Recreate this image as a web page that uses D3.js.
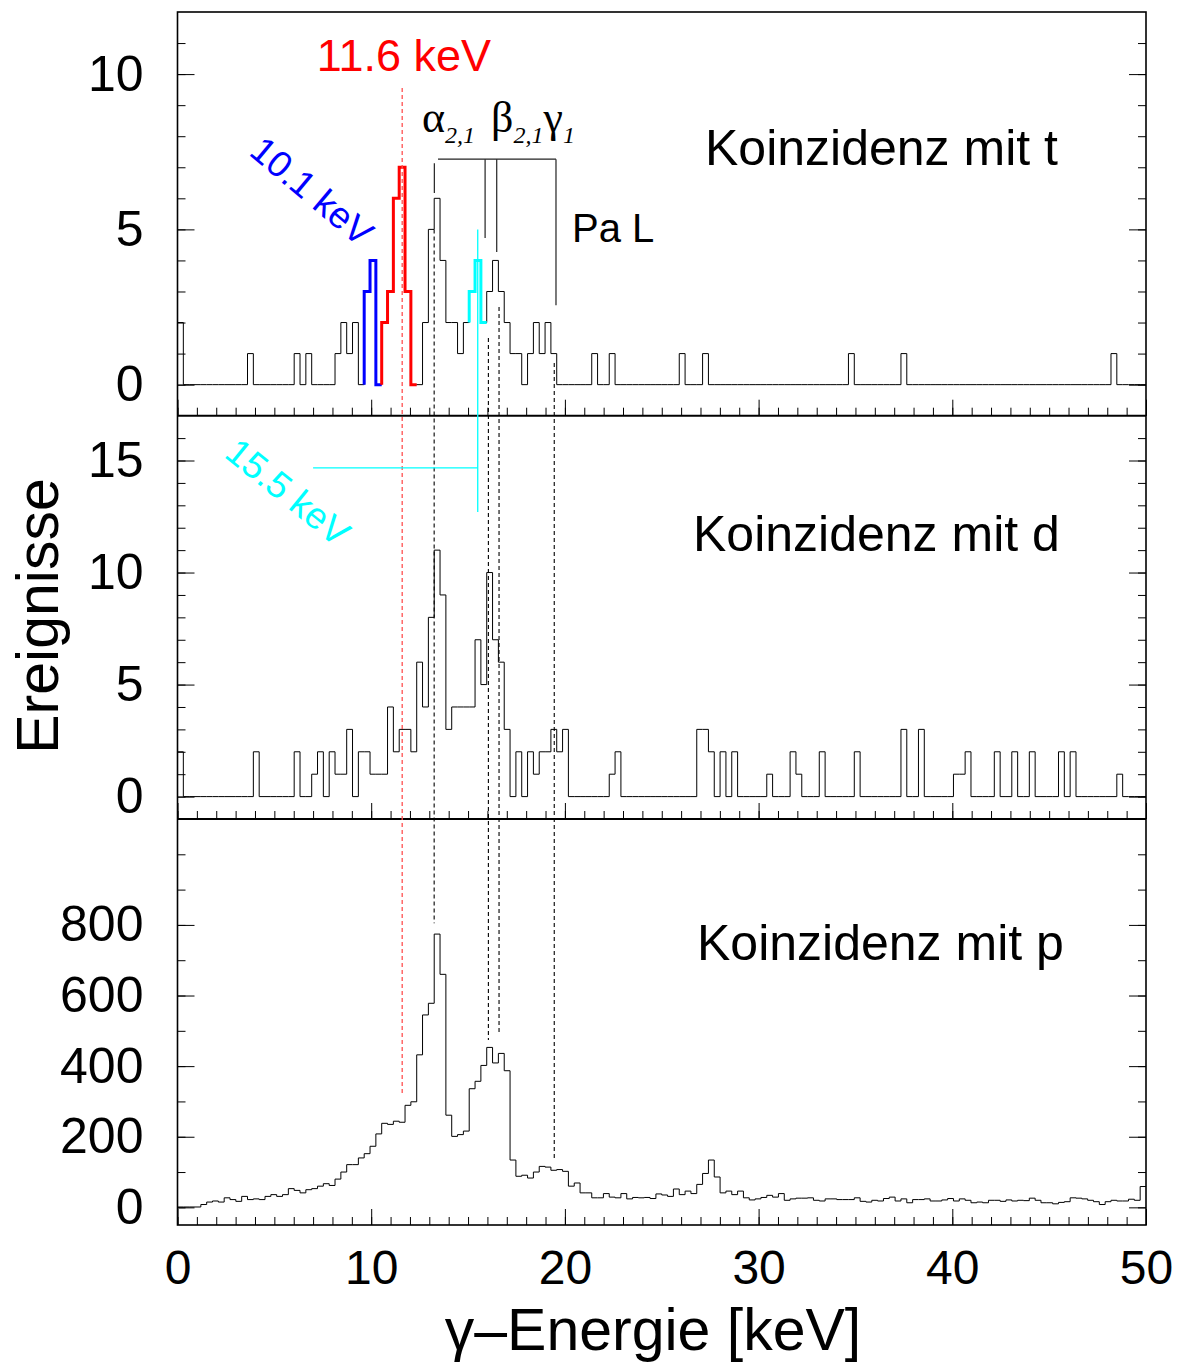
<!DOCTYPE html>
<html>
<head>
<meta charset="utf-8">
<script src="https://cdn.jsdelivr.net/npm/d3@7"></script>
<style>
  body { margin: 0; background: #fff; }
  svg { display: block; }
</style>
</head>
<body>
<svg id="chart" width="1184" height="1364"></svg>
<script>
// Energy axis and binning of the three coincidence spectra
const E_MIN = 0, E_MAX = 50;
const N_BINS = 166;

// Counts per bin, gamma spectrum in coincidence with tritons
const countsT = [
  2,0,0,0,0,0,0,0,0,0,
  0,0,1,0,0,0,0,0,0,0,
  1,0,1,0,0,0,0,1,2,1,
  2,0,3,4,0,2,3,6,7,3,
  0,0,2,5,6,4,2,2,1,2,
  3,4,2,3,4,3,2,1,1,0,
  1,2,1,2,1,0,0,0,0,0,
  0,1,0,0,1,0,0,0,0,0,
  0,0,0,0,0,0,1,0,0,0,
  1,0,0,0,0,0,0,0,0,0,
  0,0,0,0,0,0,0,0,0,0,
  0,0,0,0,0,1,0,0,0,0,
  0,0,0,0,1,0,0,0,0,0,
  0,0,0,0,0,0,0,0,0,0,
  0,0,0,0,0,0,0,0,0,0,
  0,0,0,0,0,0,0,0,0,0,
  1,0,0,0,0,0
];

// Counts per bin, coincidence with deuterons
const countsD = [
  2,0,0,0,0,0,0,0,0,0,
  0,0,0,2,0,0,0,0,0,0,
  2,0,0,1,2,0,2,1,1,3,
  0,2,2,1,1,1,4,2,3,3,
  2,6,4,8,11,9,3,4,4,4,
  4,7,5,10,7,6,3,0,2,0,
  2,1,2,2,3,2,3,0,0,0,
  0,0,0,0,1,2,0,0,0,0,
  0,0,0,0,0,0,0,0,0,3,
  3,2,0,2,0,2,0,0,0,0,
  0,1,0,0,0,2,1,0,0,0,
  2,0,0,0,0,0,2,0,0,0,
  0,0,0,0,3,0,0,3,0,0,
  0,0,0,1,1,2,0,0,0,0,
  2,0,0,2,0,0,2,0,0,0,
  0,2,0,2,0,0,0,0,0,0,
  0,1,0,0,0,0
];

// Counts per bin, coincidence with protons
const countsP = [
  1,1,1,1,8,15,18,15,27,22,
  17,31,22,24,22,31,36,31,36,53,
  48,41,50,53,60,67,62,80,100,121,
  121,140,152,173,208,238,235,244,241,289,
  299,432,545,578,774,660,261,201,206,216,
  336,357,402,453,409,436,387,134,88,91,
  83,100,116,114,105,107,102,60,69,41,
  41,27,27,39,29,27,39,24,28,27,
  28,25,38,35,31,52,36,46,39,65,
  96,134,86,41,46,36,46,27,21,24,
  28,34,29,39,20,24,26,26,27,20,
  18,24,24,22,22,22,27,17,15,20,
  18,25,29,18,24,13,22,22,24,18,
  18,21,25,18,24,20,13,15,13,20,
  20,17,21,18,20,19,26,20,13,13,
  10,14,16,27,26,24,20,16,8,16,
  20,18,18,23,20,59
];

// Highlighted bin ranges in the triton spectrum [first bin, last bin]
const blueBins = [32, 34];
const redBins = [35, 40];
const cyanBins = [50, 52];

// Axis ticks
const xMajorTicks = [0, 10, 20, 30, 40, 50];
const xMinorTicks = d3.range(0, 51, 1);
const yMajorT = [0, 5, 10];
const yMinorT = d3.range(0, 12, 1);
const yMajorD = [0, 5, 10, 15];
const yMinorD = d3.range(0, 17, 1);
const yMajorP = [0, 200, 400, 600, 800];
const yMinorP = d3.range(0, 1100, 100);

// Pa L x-ray line energies (keV) and the extent of their guide lines
const paLines = [13.25, 16.05, 16.6, 19.45];
const paLineTopT = [5.0, 1.5, 2.5, 0.7];      // start, in triton-panel counts
const paLineBottomP = [805, 474, 494, 134];   // end, in proton-panel counts
const bracketTicks = [13.26, 15.88, 16.48, 19.54];
const bracketTickBottom = [6.17, 4.72, 4.27, 2.56];
const bracketLevel = 7.26;

const redLine = 11.6;       // keV
const cyanLine = 15.5;      // keV
const cyanLeft = 7.0;       // keV, start of horizontal cyan guide

const FONT = "'Liberation Sans', Arial, Helvetica, sans-serif";
const SERIF = "'Liberation Serif', 'Times New Roman', serif";

const svg = d3.select('#chart');
const X0 = 177.5, X1 = 1146;
const x = d3.scaleLinear().domain([E_MIN, E_MAX]).range([X0, X1]);
const binW = (E_MAX - E_MIN) / N_BINS;
const edge = i => E_MIN + i * binW;

const panels = [
  { counts: countsT, scale: d3.scaleLinear().domain([-1, 12]).range([415.7, 12]),
    major: yMajorT, minor: yMinorT, label: 'Koinzidenz mit t', lx: 705, ly: 165 },
  { counts: countsD, scale: d3.scaleLinear().domain([-1, 17]).range([819, 415.7]),
    major: yMajorD, minor: yMinorD, label: 'Koinzidenz mit d', lx: 693, ly: 551 },
  { counts: countsP, scale: d3.scaleLinear().domain([-50, 1100]).range([1225, 819]),
    major: yMajorP, minor: yMinorP, label: 'Koinzidenz mit p', lx: 697, ly: 960 }
];
const yT = panels[0].scale, yD = panels[1].scale, yP = panels[2].scale;

function stepPoints(counts, first, last) {
  const pts = [];
  if (first > 0) pts.push([edge(first), counts[first - 1]]);
  for (let i = first; i <= last; i++) pts.push([edge(i), counts[i]]);
  pts.push([edge(last + 1), counts[last]]);
  return pts;
}

function drawHist(y, counts, first, last, color, width) {
  const line = d3.line().x(d => x(d[0])).y(d => y(d[1])).curve(d3.curveStepAfter);
  svg.append('path')
    .attr('d', line(stepPoints(counts, first, last)))
    .attr('fill', 'none')
    .attr('stroke', color)
    .attr('stroke-width', width)
    .attr('stroke-linejoin', 'miter');
}

function styleAxis(g) {
  g.select('.domain').remove();
  g.selectAll('.tick line').attr('stroke', '#000').attr('stroke-width', 1);
}

panels.forEach((p, idx) => {
  const y = p.scale;
  const yBottom = y.range()[0];

  drawHist(y, p.counts, 0, N_BINS - 1, '#000', 1);

  // bottom ticks pointing up
  svg.append('g').attr('transform', `translate(0,${yBottom})`)
    .call(d3.axisBottom(x).tickValues(xMinorTicks).tickSizeInner(-8).tickSizeOuter(0).tickFormat(''))
    .call(styleAxis);
  const gx = svg.append('g').attr('transform', `translate(0,${yBottom})`)
    .call(d3.axisBottom(x).tickValues(xMajorTicks).tickSizeInner(-16).tickSizeOuter(0)
      .tickPadding(25).tickFormat(idx === 2 ? d3.format('d') : ''))
    .call(styleAxis);
  gx.selectAll('text').attr('font-family', FONT).attr('font-size', 48).attr('fill', '#000');

  // left ticks pointing right, with labels
  svg.append('g').attr('transform', `translate(${X0},0)`)
    .call(d3.axisLeft(y).tickValues(p.minor).tickSizeInner(-8).tickSizeOuter(0).tickFormat(''))
    .call(styleAxis);
  const gy = svg.append('g').attr('transform', `translate(${X0},0)`)
    .call(d3.axisLeft(y).tickValues(p.major).tickSizeInner(-17).tickSizeOuter(0).tickPadding(34)
      .tickFormat(d3.format('d')))
    .call(styleAxis);
  gy.selectAll('text').attr('font-family', FONT).attr('font-size', 50).attr('fill', '#000');

  // right ticks pointing left
  svg.append('g').attr('transform', `translate(${X1},0)`)
    .call(d3.axisRight(y).tickValues(p.minor).tickSizeInner(-8).tickSizeOuter(0).tickFormat(''))
    .call(styleAxis);
  svg.append('g').attr('transform', `translate(${X1},0)`)
    .call(d3.axisRight(y).tickValues(p.major).tickSizeInner(-17).tickSizeOuter(0).tickFormat(''))
    .call(styleAxis);

  svg.append('text')
    .attr('x', p.lx).attr('y', p.ly)
    .attr('font-family', FONT).attr('font-size', 50).attr('fill', '#000')
    .text(p.label);
});

// Highlighted peaks in the triton spectrum
drawHist(yT, countsT, blueBins[0], blueBins[1], '#0000ff', 3);
drawHist(yT, countsT, redBins[0], redBins[1], '#ff0000', 3);
drawHist(yT, countsT, cyanBins[0], cyanBins[1], '#00ffff', 3);

// Frame and panel separators
svg.append('rect')
  .attr('x', X0).attr('y', yT.range()[1])
  .attr('width', X1 - X0).attr('height', yP.range()[0] - yT.range()[1])
  .attr('fill', 'none').attr('stroke', '#000').attr('stroke-width', 1.6);
[yT.range()[0], yD.range()[0]].forEach(yy => {
  svg.append('line').attr('x1', X0).attr('x2', X1).attr('y1', yy).attr('y2', yy)
    .attr('stroke', '#000').attr('stroke-width', 2);
});

// Dashed guides for the Pa L lines
paLines.forEach((e, i) => {
  svg.append('line')
    .attr('x1', x(e)).attr('x2', x(e))
    .attr('y1', yT(paLineTopT[i])).attr('y2', yP(paLineBottomP[i]))
    .attr('stroke', '#000').attr('stroke-width', 1.1).attr('stroke-dasharray', '4,3');
});

// Red guide at 11.6 keV
svg.append('line')
  .attr('x1', x(redLine)).attr('x2', x(redLine))
  .attr('y1', yT(9.55)).attr('y2', yP(324))
  .attr('stroke', '#ff5050').attr('stroke-width', 1.3).attr('stroke-dasharray', '4,3');

// Cyan guide at 15.5 keV
svg.append('line')
  .attr('x1', x(cyanLine)).attr('x2', x(cyanLine))
  .attr('y1', yT(5)).attr('y2', yD(12.7))
  .attr('stroke', '#00ffff').attr('stroke-width', 1.3);
svg.append('line')
  .attr('x1', x(cyanLeft)).attr('x2', x(cyanLine))
  .attr('y1', yD(14.67)).attr('y2', yD(14.67))
  .attr('stroke', '#00ffff').attr('stroke-width', 1.3);

// Bracket over the Pa L lines
svg.append('line')
  .attr('x1', x(13.45)).attr('x2', x(bracketTicks[3]))
  .attr('y1', yT(bracketLevel)).attr('y2', yT(bracketLevel))
  .attr('stroke', '#222').attr('stroke-width', 1.2);
bracketTicks.forEach((e, i) => {
  svg.append('line')
    .attr('x1', x(e)).attr('x2', x(e))
    .attr('y1', yT(i === 0 ? 7.13 : bracketLevel)).attr('y2', yT(bracketTickBottom[i]))
    .attr('stroke', '#222').attr('stroke-width', 1.2);
});

// Line labels
const greek = svg.append('text')
  .attr('x', 422).attr('y', 132)
  .attr('font-family', SERIF).attr('font-size', 44).attr('fill', '#000');
greek.append('tspan').text('α');
greek.append('tspan').attr('dy', 11).attr('font-size', 24).attr('font-style', 'italic').text('2,1');
greek.append('tspan').attr('dy', -11).attr('dx', 16).text('β');
greek.append('tspan').attr('dy', 11).attr('font-size', 24).attr('font-style', 'italic').text('2,1');
greek.append('tspan').attr('dy', -11).text('γ');
greek.append('tspan').attr('dy', 11).attr('font-size', 24).attr('font-style', 'italic').text('1');

svg.append('text')
  .attr('x', 572).attr('y', 242)
  .attr('font-family', FONT).attr('font-size', 40).attr('fill', '#000')
  .text('Pa L');

svg.append('text')
  .attr('x', 404).attr('y', 71)
  .attr('text-anchor', 'middle')
  .attr('font-family', FONT).attr('font-size', 45).attr('fill', '#ff0000')
  .text('11.6 keV');

svg.append('text')
  .attr('transform', 'translate(312,191) rotate(40)')
  .attr('y', 13).attr('text-anchor', 'middle')
  .attr('font-family', FONT).attr('font-size', 37).attr('fill', '#0000ff')
  .text('10.1 keV');

svg.append('text')
  .attr('transform', 'translate(288,492) rotate(39)')
  .attr('y', 13).attr('text-anchor', 'middle')
  .attr('font-family', FONT).attr('font-size', 37).attr('fill', '#00ffff')
  .text('15.5 keV');

// Axis titles
svg.append('text')
  .attr('x', 653).attr('y', 1350)
  .attr('text-anchor', 'middle')
  .attr('font-family', FONT).attr('font-size', 59).attr('fill', '#000')
  .text('γ–Energie [keV]');

svg.append('text')
  .attr('transform', 'translate(58,616) rotate(-90)')
  .attr('text-anchor', 'middle')
  .attr('font-family', FONT).attr('font-size', 59).attr('fill', '#000')
  .text('Ereignisse');
</script>
</body>
</html>
